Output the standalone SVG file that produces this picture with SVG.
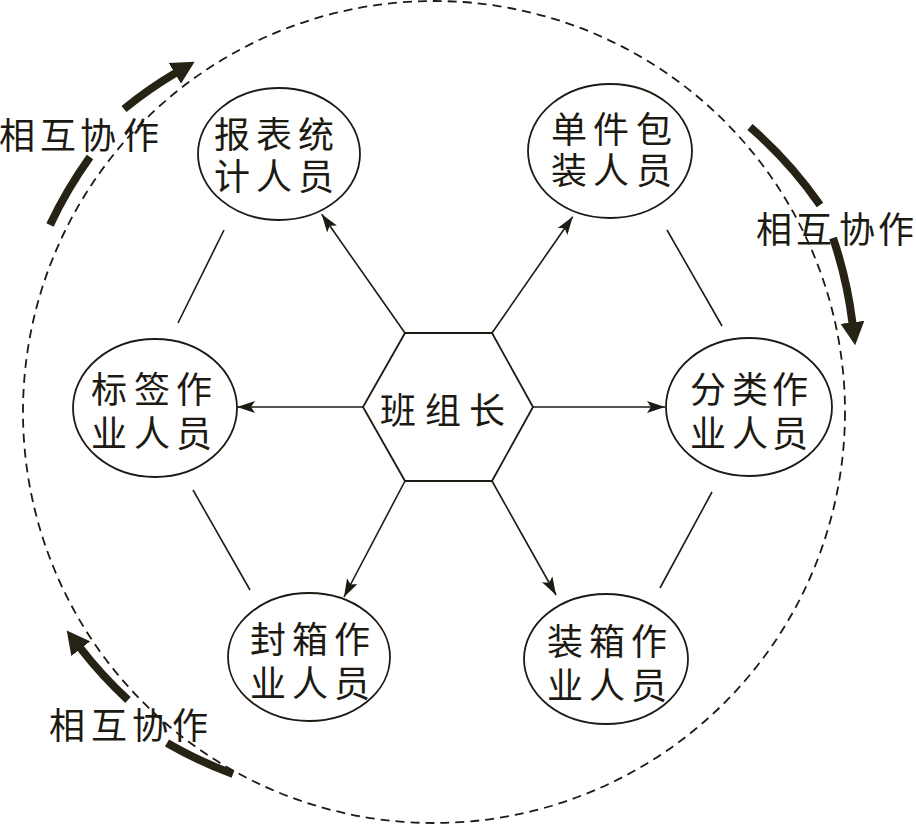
<svg xmlns="http://www.w3.org/2000/svg" width="916" height="824" viewBox="0 0 916 824">
<style>
.node{fill:#fff;stroke:#1c1a12;stroke-width:1.8}
.t{font-family:"Liberation Serif","Noto Sans CJK SC",serif;font-size:36px;fill:#1c1a12;text-anchor:middle;dominant-baseline:central}
.thin{fill:none;stroke:#1c1a12;stroke-width:1.6}
.big{fill:none;stroke:#262214;stroke-width:8}
.dash{fill:none;stroke:#1c1a12;stroke-width:1.8;stroke-dasharray:9 6}
</style>
<defs>
<marker id="ah" markerUnits="userSpaceOnUse" markerWidth="18" markerHeight="12" refX="18" refY="6" orient="auto">
<path d="M0,0 L18,6 L0,12 L4,6 z" fill="#1c1a12"/>
</marker>
<marker id="bh" markerUnits="userSpaceOnUse" markerWidth="24" markerHeight="24" refX="1" refY="12" orient="auto">
<path d="M0,0 L23,12 L0,24 z" fill="#262214"/>
</marker>
</defs>
<rect width="916" height="824" fill="#fff"/>
<circle class="dash" cx="434" cy="412" r="411"/>
<g id="connectors">
<path class="thin" d="M405 333 L321.7 214.3" marker-end="url(#ah)"/>
<path class="thin" d="M492 333 L572.7 216.7" marker-end="url(#ah)"/>
<path class="thin" d="M363 407 L237 407" marker-end="url(#ah)"/>
<path class="thin" d="M533 407 L665 407" marker-end="url(#ah)"/>
<path class="thin" d="M405 481 L344 597" marker-end="url(#ah)"/>
<path class="thin" d="M492 481 L556 595" marker-end="url(#ah)"/>
<line class="thin" x1="224" y1="230" x2="178" y2="323"/>
<line class="thin" x1="667" y1="230" x2="722" y2="326"/>
<line class="thin" x1="193" y1="490" x2="250" y2="590"/>
<line class="thin" x1="712" y1="492" x2="660" y2="588"/>
</g>
<g id="cooperate-arrows">
<path class="big" d="M50 225 A426 426 0 0 1 90 157"/>
<path class="big" d="M124 109 A426 426 0 0 1 175.7 72.9" marker-end="url(#bh)"/>
<path class="big" d="M750 127 A426 426 0 0 1 820 205"/>
<path class="big" d="M833 238 A426 426 0 0 1 852.5 323.3" marker-end="url(#bh)"/>
<path class="big" d="M233 774 A426 426 0 0 1 167 743"/>
<path class="big" d="M128 700 A426 426 0 0 1 80.2 647.9" marker-end="url(#bh)"/>
</g>
<g id="label-tl"><text class="t" x="17 58 98 141" y="137">相互协作</text></g>
<g id="label-r"><text class="t" x="774 814 857 896" y="231">相互协作</text></g>
<g id="label-bl"><text class="t" x="67 109 150 190" y="727">相互协作</text></g>
<g id="leader">
<polygon class="node" points="405,333 492,333 533,407 492,481 405,481 363,407"/>
<text class="t" x="398 443 487" y="412">班组长</text>
</g>
<g id="n1">
<ellipse class="node" cx="279" cy="154" rx="81" ry="66"/>
<text class="t"><tspan x="232 274 316" y="136">报表统</tspan><tspan x="232 274 316" y="178">计人员</tspan></text>
</g>
<g id="n2">
<ellipse class="node" cx="610" cy="151" rx="82" ry="67"/>
<text class="t"><tspan x="569 611 654" y="131">单件包</tspan><tspan x="569 611 654" y="172">装人员</tspan></text>
</g>
<g id="n3">
<ellipse class="node" cx="155" cy="408" rx="82" ry="69"/>
<text class="t"><tspan x="109 152 194" y="391">标签作</tspan><tspan x="109 152 194" y="435">业人员</tspan></text>
</g>
<g id="n4">
<ellipse class="node" cx="749" cy="407" rx="83" ry="69"/>
<text class="t"><tspan x="708 750 790" y="391">分类作</tspan><tspan x="708 750 790" y="435">业人员</tspan></text>
</g>
<g id="n5">
<ellipse class="node" cx="309" cy="657" rx="81" ry="64"/>
<text class="t"><tspan x="268 310 352" y="641">封箱作</tspan><tspan x="268 310 352" y="685">业人员</tspan></text>
</g>
<g id="n6">
<ellipse class="node" cx="606" cy="659" rx="82" ry="65"/>
<text class="t"><tspan x="565 607 649" y="643">装箱作</tspan><tspan x="565 607 649" y="687">业人员</tspan></text>
</g>
</svg>
